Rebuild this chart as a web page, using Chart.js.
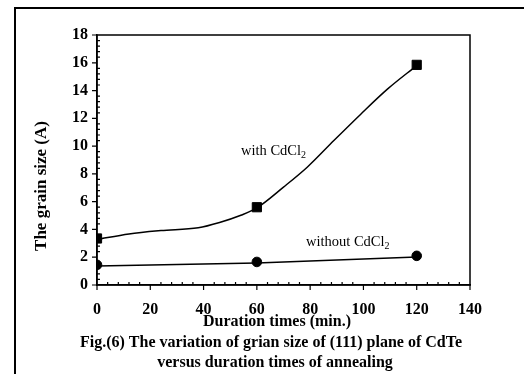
<!DOCTYPE html>
<html>
<head>
<meta charset="utf-8">
<script src="https://cdn.jsdelivr.net/npm/chart.js@4/dist/chart.umd.min.js"></script>
<style>
  html, body { margin: 0; padding: 0; background: #fff; }
  #wrap { width: 524px; height: 374px; position: relative; }
</style>
</head>
<body>
<div id="wrap"><canvas id="grain"></canvas></div>
<script>
// Grain size of (111) plane vs annealing duration

const durations = [0, 60, 120];
const withMarkers = [3.35, 5.6, 15.85];
const withoutMarkers = [1.45, 1.66, 2.1];

// smooth trend line drawn through the "with CdCl2" points
const withCurveX = [0, 12, 24, 38, 46, 54, 60, 70, 79, 89, 99, 109, 120];
const withCurveY = [3.28, 3.68, 3.92, 4.12, 4.5, 5.02, 5.55, 7.05, 8.5, 10.42, 12.3, 14.1, 15.8];
// straight fit line for "without CdCl2"
const withoutLineY = [1.37, 1.58, 2.02];

const xTicks = [0, 20, 40, 60, 80, 100, 120, 140];
const yTicks = [0, 2, 4, 6, 8, 10, 12, 14, 16, 18];

const serif = "'Liberation Serif', 'Times New Roman', serif";

const toPoints = (xs, ys) => xs.map((x, i) => ({ x: x, y: ys[i] }));

// text helper with subscript "2"
function drawLabelSub(ctx, x, y, main, sub) {
  ctx.font = '14.5px ' + serif;
  ctx.textAlign = 'left';
  ctx.textBaseline = 'middle';
  ctx.fillText(main, x, y);
  const w = ctx.measureText(main).width;
  ctx.font = '10px ' + serif;
  ctx.fillText(sub, x + w, y + 4);
}

const decorations = {
  id: 'decorations',
  afterDraw(chart) {
    const ctx = chart.ctx;
    const area = chart.chartArea;
    const xs = chart.scales.x;
    const ys = chart.scales.y;
    ctx.save();
    ctx.strokeStyle = '#000';
    ctx.fillStyle = '#000';

    // outer figure frame
    ctx.lineWidth = 2;
    ctx.strokeRect(15, 8, 530, 380);

    // plot box
    ctx.lineWidth = 1.5;
    ctx.strokeRect(area.left, area.top, area.right - area.left, area.bottom - area.top);

    // major ticks outward, minor ticks inward
    ctx.lineWidth = 1.2;
    ctx.beginPath();
    for (let v = 0; v <= 140.001; v += 4) {
      const px = xs.getPixelForValue(v);
      if (v % 20 === 0) {
        ctx.moveTo(px, area.bottom);
        ctx.lineTo(px, area.bottom + 5);
      } else {
        ctx.moveTo(px, area.bottom);
        ctx.lineTo(px, area.bottom - 3);
      }
    }
    for (let i = 0; i <= 45; i++) {
      const v = i * 0.4;
      const py = ys.getPixelForValue(v);
      if (i % 5 === 0) {
        ctx.moveTo(area.left, py);
        ctx.lineTo(area.left - 5, py);
      } else {
        ctx.moveTo(area.left, py);
        ctx.lineTo(area.left + 3, py);
      }
    }
    ctx.stroke();

    // axis titles
    ctx.font = 'bold 16px ' + serif;
    ctx.textAlign = 'center';
    ctx.textBaseline = 'middle';
    ctx.fillText('Duration times (min.)', 277, 322);

    ctx.save();
    ctx.translate(42, 186);
    ctx.rotate(-Math.PI / 2);
    ctx.font = 'bold 17px ' + serif;
    ctx.fillText('The grain size (A)', 0, 0);
    ctx.restore();

    // caption
    ctx.font = 'bold 16px ' + serif;
    ctx.fillText('Fig.(6) The variation of grian size of (111) plane of CdTe', 271, 343);
    ctx.fillText('versus duration times of annealing', 275, 363);

    // series annotations
    drawLabelSub(ctx, 241, 151, 'with CdCl', '2');
    drawLabelSub(ctx, 306, 242, 'without CdCl', '2');

    ctx.restore();
  }
};

new Chart(document.getElementById('grain'), {
  type: 'scatter',
  data: {
    datasets: [
      {
        data: toPoints(withCurveX, withCurveY),
        showLine: true,
        borderColor: '#000',
        borderWidth: 1.5,
        cubicInterpolationMode: 'monotone',
        pointRadius: 0
      },
      {
        data: toPoints(durations, withoutLineY),
        showLine: true,
        borderColor: '#000',
        borderWidth: 1.5,
        tension: 0,
        pointRadius: 0
      },
      {
        data: toPoints(durations, withMarkers),
        pointStyle: 'rect',
        pointRadius: 6.5,
        backgroundColor: '#000',
        borderColor: '#000'
      },
      {
        data: toPoints(durations, withoutMarkers),
        pointStyle: 'circle',
        pointRadius: 4.8,
        backgroundColor: '#000',
        borderColor: '#000'
      }
    ]
  },
  options: {
    responsive: true,
    maintainAspectRatio: false,
    animation: false,
    layout: { padding: { left: 0, top: 35, right: 54, bottom: 49 } },
    plugins: {
      legend: { display: false },
      tooltip: { enabled: false }
    },
    scales: {
      x: {
        type: 'linear',
        min: 0,
        max: 140,
        afterFit: (scale) => { scale.height = 40; },
        afterBuildTicks: (scale) => { scale.ticks = xTicks.map(v => ({ value: v })); },
        grid: { display: false },
        border: { display: true, color: '#000', width: 1.5 },
        ticks: {
          color: '#000',
          padding: 7,
          maxRotation: 0,
          font: { family: serif, size: 16, weight: 'bold' }
        }
      },
      y: {
        type: 'linear',
        min: 0,
        max: 18,
        afterFit: (scale) => { scale.width = 97; },
        afterBuildTicks: (scale) => { scale.ticks = yTicks.map(v => ({ value: v })); },
        grid: { display: false },
        border: { display: true, color: '#000', width: 1.5 },
        ticks: {
          color: '#000',
          padding: 1,
          font: { family: serif, size: 16, weight: 'bold' }
        }
      }
    }
  },
  plugins: [decorations]
});
</script>
</body>
</html>
